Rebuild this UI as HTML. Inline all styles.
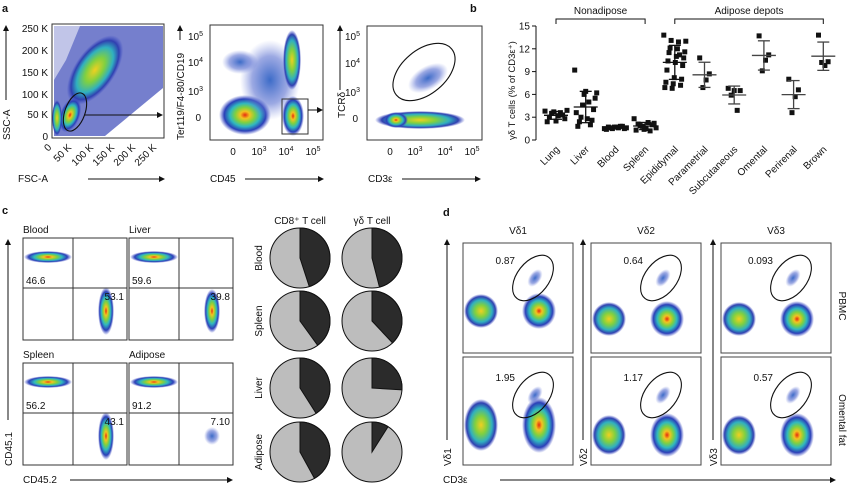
<!DOCTYPE html>
<html><head><meta charset="utf-8"><style>
body{margin:0;background:#fff}
svg{display:block;font-family:"Liberation Sans",sans-serif}
text{fill:#111}
</style></head><body>
<svg id="fig" width="850" height="488" viewBox="0 0 850 488" xmlns="http://www.w3.org/2000/svg">
<defs>
<radialGradient id="heat" cx="0.5" cy="0.5" r="0.5">
<stop offset="0" stop-color="#e52a10"/><stop offset="0.18" stop-color="#f3c320"/><stop offset="0.38" stop-color="#7fd040"/><stop offset="0.58" stop-color="#2fb8c0"/><stop offset="0.8" stop-color="#2b3fb8"/><stop offset="1" stop-color="#4050c8" stop-opacity="0"/>
</radialGradient>
<radialGradient id="cool" cx="0.5" cy="0.5" r="0.5">
<stop offset="0" stop-color="#3c6cc8"/><stop offset="0.6" stop-color="#5a70d0" stop-opacity="0.6"/><stop offset="1" stop-color="#8090e0" stop-opacity="0"/>
</radialGradient>
<radialGradient id="grn" cx="0.5" cy="0.5" r="0.5">
<stop offset="0" stop-color="#f0d020"/><stop offset="0.35" stop-color="#80d040"/><stop offset="0.65" stop-color="#30b0c0"/><stop offset="0.85" stop-color="#3040b0"/><stop offset="1" stop-color="#4050c8" stop-opacity="0"/>
</radialGradient>
<marker id="ah" markerWidth="6" markerHeight="6" refX="5" refY="3" orient="auto"><path d="M0,0 L6,3 L0,6 z" fill="#111"/></marker>
</defs>
<g id="layer"></g>
</svg>
<script>
const NS='http://www.w3.org/2000/svg';
const layer=document.getElementById('layer');
function mk(tag,attrs,txt,name,parent){const e=document.createElementNS(NS,tag);for(const k in attrs)e.setAttribute(k,attrs[k]);if(txt!==undefined&&txt!==null)e.textContent=txt;


(parent||layer).appendChild(e);return e;}
function T(x,y,s,size,name,extra){const a=Object.assign({x:x,y:y,'font-size':size||10},extra||{});return mk('text',a,s,name);}
function L(x1,y1,x2,y2,name,extra){return mk('line',Object.assign({x1:x1,y1:y1,x2:x2,y2:y2,stroke:'#111','stroke-width':1},extra||{}),null,name);}
function R(x,y,w,h,name){return mk('rect',{x:x,y:y,width:w,height:h,fill:'none',stroke:'#333','stroke-width':1},null,name);}
function blob(cx,cy,rx,ry,grad,name,rot){const e=mk('ellipse',{cx:cx,cy:cy,rx:rx,ry:ry,fill:'url(#'+grad+')'},null,name);if(rot)e.setAttribute('transform','rotate('+rot+' '+cx+' '+cy+')');return e;}
function gate(cx,cy,rx,ry,rot,name){return mk('ellipse',{cx:cx,cy:cy,rx:rx,ry:ry,fill:'none',stroke:'#111','stroke-width':1.1,transform:'rotate('+rot+' '+cx+' '+cy+')'},null,name);}
function sup(x,y,base,exp,name,anchor){const t=mk('text',{x:x,y:y,'font-size':10,'text-anchor':anchor||'middle'},null,name);const a=document.createElementNS(NS,'tspan');a.textContent=base;t.appendChild(a);const b=document.createElementNS(NS,'tspan');b.textContent=exp;b.setAttribute('font-size',7);b.setAttribute('dy',-4);t.appendChild(b);return t;}

/* ---------- panel a ---------- */
T(2,12,'a',11,'panel-a-label',{'font-weight':'bold'});
mk('polygon',{points:'54,26 163,26 163,88 105,136 54,136',fill:'#3a48b8',opacity:0.7},null,'fsc-ssc-density');
mk('polygon',{points:'54,26 80,26 66,60 54,80',fill:'#fff',opacity:0.55},null,'fsc-ssc-sparse');
blob(95,70,20,40,'grn','fsc-ssc-main-cluster',35);
blob(70,115,10,18,'heat','fsc-ssc-lymph-cluster',20);
blob(57,118,5,18,'grn','fsc-ssc-debris',0);
R(52,24,112,114,'fsc-ssc-plot-frame');
gate(75,112,10,20,20,'fsc-ssc-lymphocyte-gate');
L(84,115,162,115,'gate-arrow-1',{'marker-end':'url(#ah)'});
[['250 K',29],['200 K',51],['150 K',73],['100 K',95],['50 K',115],['0',137]].forEach(t=>{T(48,t[1]+3,t[0],10,'ssc-tick-label',{'text-anchor':'end'});});
[['0',52],['50 K',72],['100 K',94],['150 K',115],['200 K',136],['250 K',157]].forEach(t=>{T(t[1],148,t[0],10,'fsc-tick-label',{'text-anchor':'end',transform:'rotate(-45 '+t[1]+' 148)'});});
T(18,182,'FSC-A',10,'fsc-axis-title');L(88,179,164,179,'fsc-axis-arrow',{'marker-end':'url(#ah)'});
T(10,140,'SSC-A',10,'ssc-axis-title',{transform:'rotate(-90 10 140)'});L(6,100,6,26,'ssc-axis-arrow',{'marker-end':'url(#ah)'});
// plot 2
blob(245,115,26,20,'heat','cd45-neg-cluster');
blob(240,62,18,12,'cool','lineage-pos-cluster');
blob(270,80,30,40,'cool','cd45-diffuse');
blob(292,60,9,30,'grn','cd45-lineage-cluster');
blob(293,116,11,20,'heat','cd45-pos-lin-neg-cluster');
R(210,25,113,115,'cd45-plot-frame');
R(282,99,26,35,'cd45-gate');
L(308,110,322,110,'gate-arrow-2',{'marker-end':'url(#ah)'});
[['5',37],['4',63],['3',92]].forEach(t=>sup(203,t[1]+3,'10',t[0],'lineage-tick-label','end'));
T(201,121,'0',10,'lineage-tick-label',{'text-anchor':'end'});
T(233,155,'0',10,'cd45-tick-label',{'text-anchor':'middle'});
[['3',259],['4',286],['5',313]].forEach(t=>sup(t[1],155,'10',t[0],'cd45-tick-label'));
T(210,182,'CD45',10,'cd45-axis-title');L(245,179,323,179,'cd45-axis-arrow',{'marker-end':'url(#ah)'});
T(184,140,'Ter119/F4-80/CD19',10,'lineage-axis-title',{transform:'rotate(-90 184 140)'});L(180,40,180,26,'lineage-axis-arrow',{'marker-end':'url(#ah)'});
// plot 3
blob(420,120,45,9,'grn','cd3-neg-cluster');
blob(396,120,12,8,'heat','cd3-low-cluster');
blob(428,78,22,12,'cool','gd-t-cluster',-30);
R(367,26,115,114,'tcrd-plot-frame');
gate(424,72,36,22,-40,'gd-t-gate');
[['5',37],['4',64],['3',93]].forEach(t=>sup(360,t[1]+3,'10',t[0],'tcrd-tick-label','end'));
T(358,122,'0',10,'tcrd-tick-label',{'text-anchor':'end'});
T(390,155,'0',10,'cd3-tick-label',{'text-anchor':'middle'});
[['3',415],['4',445],['5',472]].forEach(t=>sup(t[1],155,'10',t[0],'cd3-tick-label'));
T(368,182,'CD3ε',10,'cd3-axis-title');L(402,179,480,179,'cd3-axis-arrow',{'marker-end':'url(#ah)'});
T(345,118,'TCRδ',10,'tcrd-axis-title',{transform:'rotate(-90 345 118)'});L(340,90,340,26,'tcrd-axis-arrow',{'marker-end':'url(#ah)'});
</script>
<script>
/* ---------- panel b: scatter dot plot ---------- */
const categories=['Lung','Liver','Blood','Spleen','Epididymal','Parametrial','Subcutaneous','Omental','Perirenal','Brown'];
const lungValues=[3.8,3.6,3.5,3.9,3.2,3.0,2.8,2.5,2.4,3.3,3.7];
const liverValues=[9.2,6.4,6.2,6.0,5.5,4.6,4.0,3.0,2.6,2.4,2.0,1.8,5.0,3.6,2.8];
const bloodValues=[1.5,1.6,1.7,1.8,1.5,1.6,1.7,1.4,1.8,1.6,1.5,1.7];
const spleenValues=[2.8,2.3,2.1,2.0,1.8,1.6,1.5,1.3,1.2,1.9,2.2,1.4];
const epididymalValues=[13.8,13.1,12.9,13.0,12.1,12.0,11.6,11.5,11.0,10.8,10.4,10.2,9.8,9.2,8.2,8.0,7.6,7.4,7.2,6.9,6.8,11.2];
const parametrialValues=[10.8,8.7,7.9,6.9];
const subcutaneousValues=[6.8,6.5,6.5,5.9,3.9];
const omentalValues=[13.7,11.2,10.5,9.1];
const perirenalValues=[8.0,6.6,5.7,3.6];
const brownValues=[13.8,10.3,9.8,10.2];
const seriesValues=[lungValues,liverValues,bloodValues,spleenValues,epididymalValues,parametrialValues,subcutaneousValues,omentalValues,perirenalValues,brownValues];
const yTicks=[0,3,6,9,12,15];
const groupLabels=['Nonadipose','Adipose depots'];

(function(){
const x0=556,dx=29.7,yBase=140,yScale=7.6,axisX=536;
const xS=i=>x0+i*dx, yS=v=>yBase-v*yScale;
T(470,12,'b',11,'panel-b-label',{'font-weight':'bold'});
L(axisX,yS(15),axisX,yS(0),'b-y-axis');
yTicks.forEach(v=>{L(axisX-4,yS(v),axisX,yS(v),'b-y-tick');T(axisX-6,yS(v)+3.5,String(v),10,'b-y-tick-label',{'text-anchor':'end'});});
T(515,140,'γδ T cells (% of CD3ε⁺)',9.5,'b-y-axis-title',{transform:'rotate(-90 515 140)'});
categories.forEach((c,i)=>{const x=xS(i);T(x+4,150,c,10,'b-x-label-'+c.toLowerCase(),{'text-anchor':'end',transform:'rotate(-45 '+(x+4)+' 150)'});});
const br=[[0,3,groupLabels[0]],[4,9,groupLabels[1]]];
br.forEach(b=>{const a=xS(b[0]),e=xS(b[1]);mk('path',{d:'M'+a+',24 V19 H'+e+' V24',fill:'none',stroke:'#111'},null,'b-group-bracket');T((a+e)/2,14,b[2],10,'b-group-label',{'text-anchor':'middle'});});
seriesValues.forEach((vals,i)=>{const cx=xS(i);const n=vals.length;const w=Math.min(11,n*1.2);
 vals.forEach((v,j)=>{const off=((j*7)%n)/(n-1||1)*2*w-w;
  mk('rect',{x:cx+off-2.5,y:yS(v)-2.5,width:5,height:5,fill:'#111'},null,'b-point-'+categories[i].toLowerCase());});
 const m=vals.reduce((a,b)=>a+b,0)/n;const sd=Math.sqrt(vals.reduce((a,b)=>a+(b-m)*(b-m),0)/(n-1));
 const ec=n>6?'#111':'#444';
 L(cx-12,yS(m),cx+12,yS(m),'b-mean-'+categories[i].toLowerCase(),{stroke:ec,'stroke-width':1.3});
 L(cx,yS(m+sd),cx,yS(m-sd),'b-sd-'+categories[i].toLowerCase(),{stroke:ec,'stroke-width':1.3});
 L(cx-6,yS(m+sd),cx+6,yS(m+sd),'b-sd-cap',{stroke:ec,'stroke-width':1.3});
 L(cx-6,yS(m-sd),cx+6,yS(m-sd),'b-sd-cap',{stroke:ec,'stroke-width':1.3});
});
})();
</script>
<script>
/* ---------- panel c ---------- */
const tissues=['Blood','Liver','Spleen','Adipose'];
const cd451Pct=['46.6','59.6','56.2','91.2'];
const cd452Pct=['53.1','39.8','43.1','7.10'];
const pieRows=['Blood','Spleen','Liver','Adipose'];
const cd8DarkFraction=[0.45,0.40,0.41,0.42];
const gdDarkFraction=[0.46,0.38,0.26,0.09];
(function(){
T(2,214,'c',11,'panel-c-label',{'font-weight':'bold'});
const boxes=[[23,238],[129,238],[23,363],[129,363]];
const boxW=104,boxH=102;
tissues.forEach((t,i)=>{const [x,y]=boxes[i];
 T(x,y-5,t,10,'c-title-'+t.toLowerCase());
 blob(x+25,y+19,24,6,'heat','c-cd451-cluster');
 const sz=[1,0.9,1,0.25][i];
 blob(x+83,y+73,8,20*sz+4,sz<0.5?'cool':'heat','c-cd452-cluster');
 R(x,y,boxW,boxH,'c-plot-frame');
 L(x+50,y,x+50,y+boxH,'c-quadrant-v',{stroke:'#333'});
 L(x,y+50,x+boxW,y+50,'c-quadrant-h',{stroke:'#333'});
 T(x+3,y+46,cd451Pct[i],10,'c-cd451-percent');
 T(x+boxW-3,y+62,cd452Pct[i],10,'c-cd452-percent',{'text-anchor':'end'});
});
T(12,466,'CD45.1',10,'c-y-axis-title',{transform:'rotate(-90 12 466)'});L(8,420,8,240,'c-y-axis-arrow',{'marker-end':'url(#ah)'});
T(23,483,'CD45.2',10,'c-x-axis-title');L(70,480,232,480,'c-x-axis-arrow',{'marker-end':'url(#ah)'});
T(300,224,'CD8⁺ T cell',10,'pie-header-cd8',{'text-anchor':'middle'});
T(372,224,'γδ T cell',10,'pie-header-gd',{'text-anchor':'middle'});
const rowY=[258,321,388,452],colX=[300,372],r=30;
function pie(cx,cy,f,name){
 mk('circle',{cx:cx,cy:cy,r:r,fill:'#bdbdbd',stroke:'#111','stroke-width':1},null,name+'-light');
 const a=f*2*Math.PI;const ex=cx+r*Math.sin(a),ey=cy-r*Math.cos(a);
 mk('path',{d:'M'+cx+','+cy+' L'+cx+','+(cy-r)+' A'+r+','+r+' 0 '+(f>0.5?1:0)+' 1 '+ex+','+ey+' Z',fill:'#2b2b2b',stroke:'#111','stroke-width':1},null,name+'-dark');
}
pieRows.forEach((t,i)=>{
 T(262,rowY[i],t,10,'pie-row-label',{'text-anchor':'middle',transform:'rotate(-90 262 '+rowY[i]+')'});
 pie(colX[0],rowY[i],cd8DarkFraction[i],'pie-cd8-'+t.toLowerCase());
 pie(colX[1],rowY[i],gdDarkFraction[i],'pie-gd-'+t.toLowerCase());
});
})();
</script>
<script>
/* ---------- panel d ---------- */
const vdChains=['Vδ1','Vδ2','Vδ3'];
const dRows=['PBMC','Omental fat'];
const gatePct=[['0.87','0.64','0.093'],['1.95','1.17','0.57']];
(function(){
T(443,216,'d',11,'panel-d-label',{'font-weight':'bold'});
const colX=[463,591,721],rowY=[243,357],W=110,H=[110,108];
vdChains.forEach((v,c)=>{T(colX[c]+55,234,v,10,'d-col-header',{'text-anchor':'middle'});});
dRows.forEach((rn,r)=>{vdChains.forEach((v,c)=>{const x=colX[c],y=rowY[r];const h=H[r];
 const by=r===0?y+68+(c>0?8:0):y+(c===0?68:78);
 blob(x+18,by,17,r===1?(c===0?26:20):17,'grn','d-cd3-neg-cluster');
 blob(x+76,by,17,r===1?(c===0?28:22):18,'heat','d-cd3-pos-cluster');
 const gy=r===0?y+35:y+38;
 blob(x+72,gy,6,10,'cool','d-gated-cluster',35);
 mk('rect',{x:x,y:y,width:W,height:h,fill:'none',stroke:'#444','stroke-width':1},null,'d-plot-frame');
 gate(x+70,gy,16,26,38,'d-vd-gate');
 T(x+52,gy-14,gatePct[r][c],10,'d-gate-percent',{'text-anchor':'end'});
});});
T(847,298,'PBMC',10,'d-row-label-pbmc',{'text-anchor':'middle',transform:'rotate(90 839 298)'});
T(847,412,'Omental fat',10,'d-row-label-omental',{'text-anchor':'middle',transform:'rotate(90 839 412)'});
[[447,'Vδ1'],[583,'Vδ2'],[713,'Vδ3']].forEach(a=>{L(a[0],440,a[0],240,'d-y-axis-arrow',{'marker-end':'url(#ah)'});T(a[0]+4,466,a[1],10,'d-y-axis-title',{transform:'rotate(-90 '+(a[0]+4)+' 466)'});});
T(443,483,'CD3ε',10,'d-x-axis-title');L(500,480,835,480,'d-x-axis-arrow',{'marker-end':'url(#ah)'});
})();
</script>
</body></html>
